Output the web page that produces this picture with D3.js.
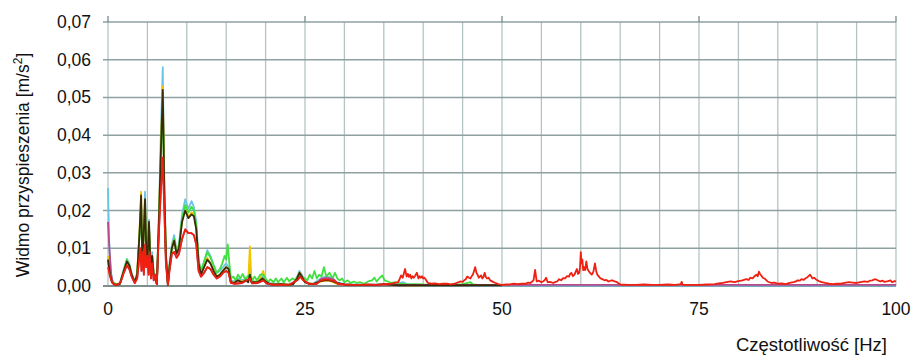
<!DOCTYPE html>
<html><head><meta charset="utf-8">
<script src="https://cdn.jsdelivr.net/npm/d3@7"></script>
<style>body{margin:0;background:#fff}svg{display:block}text{font-family:"Liberation Sans",Arial,sans-serif;fill:#111}</style>
</head><body><svg id="c" width="915" height="359"></svg>
<script>
// values in 10^-3 m/s^2 : [frequency Hz, amplitude]
const UNIT = 1e-3;
const xTicks = [0, 25, 50, 75, 100];
const yTicks = [0, 0.01, 0.02, 0.03, 0.04, 0.05, 0.06, 0.07];
const yTickLabels = ["0,00","0,01","0,02","0,03","0,04","0,05","0,06","0,07"];
const xGrid = [0,5,10,15,20,25,30,35,40,45,50,55,60,65,70,75,80,85,90,95,100];

const cyanSeries = [[0,26],[0.15,12],[0.35,4],[0.6,1],[0.9,0.4],[1.5,0.6],[2.0,4.5],[2.4,7.2],[2.7,6],[3.0,3.5],[3.4,1.2],[3.7,3.5],[4.0,14],[4.2,22],[4.35,9],[4.5,13],[4.7,25],[4.85,11],[5.0,7],[5.2,17.5],[5.4,6],[5.6,9],[5.8,3.5],[6.0,2.5],[6.2,0.6],[6.5,22],[6.7,40],[6.95,58],[7.15,28],[7.35,9],[7.6,0.5],[7.8,6],[8.1,11],[8.4,13.5],[8.7,9.5],[9.0,11],[9.4,19],[9.8,23],[10.2,20.5],[10.6,22.5],[10.9,21],[11.2,17],[11.5,7],[11.8,4],[12.2,6.5],[12.6,9.5],[13.0,8],[13.4,5.5],[13.8,3.5],[14.2,4],[14.6,5],[15.0,6],[15.3,5],[15.6,1.5],[16,1.2],[16.5,2],[17,1.5],[17.5,2],[17.8,1.5],[18.0,6],[18.2,1.5],[18.6,1.2],[19,1.2],[19.6,2.5],[20,1.5],[20.5,0.8],[21,0.6],[22,0.6],[23,0.5],[23.5,0.8],[24.0,2.5],[24.3,4],[24.6,3],[25,1.2],[25.5,0.8],[26,0.6],[27,2],[27.5,2.4],[28,2.4],[28.5,2],[29,1],[30,0.5],[32,0.4],[34,0.4],[36,0.4],[37,0.8],[37.5,1],[38,0.4],[40,0.2],[45,0.15],[50,0.1],[60,0.1],[70,0.1],[80,0.1],[90,0.1],[100,0.1]];

const yellowSeries = [[0,8],[0.3,3],[0.6,1],[1,0.4],[1.5,0.6],[2.0,4],[2.4,6.8],[2.7,5.5],[3.0,3],[3.4,1],[3.7,3.5],[4.0,15],[4.2,25],[4.35,9],[4.5,12],[4.7,22],[4.85,10],[5.0,6],[5.2,16],[5.4,5],[5.6,8],[5.8,3],[6.0,2],[6.2,0.5],[6.5,21],[6.7,37],[6.95,53],[7.15,26],[7.35,8],[7.6,0.4],[7.8,5],[8.1,10],[8.4,12.5],[8.7,9],[9.0,10],[9.4,17.5],[9.8,20.5],[10.2,18.5],[10.6,19.5],[10.9,19],[11.2,15.5],[11.5,6],[11.8,3],[12.2,5.5],[12.6,7.5],[13,6],[13.4,4.2],[13.8,2.5],[14.2,3],[14.6,4.2],[15,5],[15.3,4.5],[15.6,1],[16,1],[16.5,1.5],[17,1.2],[17.5,1.5],[17.8,1.5],[18.0,10.5],[18.2,2],[18.6,1],[19,1.2],[19.4,2.5],[19.7,4],[20,1.5],[20.5,0.6],[21,0.4],[22,0.5],[23,0.4],[23.5,0.6],[24,2],[24.3,3.5],[24.6,2.5],[25,1],[26,0.5],[27,1.2],[28,1.5],[29,0.6],[30,0.3],[33,0.3],[36,0.3],[38,0.2],[40,0.2]];

const greenSeries = [[0,7],[0.3,3],[0.6,1],[1,0.5],[1.5,0.6],[2,4],[2.4,7],[2.7,5.5],[3,3],[3.4,1],[3.7,3],[4,13],[4.2,22],[4.35,8],[4.5,12],[4.7,22],[4.85,10],[5,6],[5.2,16],[5.4,5],[5.6,8],[5.8,3],[6,2],[6.2,0.5],[6.5,19],[6.7,34],[6.95,50],[7.15,24],[7.35,8],[7.6,0.4],[7.8,5],[8.1,10],[8.4,12.5],[8.7,9],[9,10.5],[9.4,18],[9.8,21.5],[10.2,19.5],[10.6,21],[10.9,20],[11.2,16],[11.5,6.5],[11.8,4],[12.2,6.5],[12.6,9],[13,7.5],[13.4,5.5],[13.8,3.5],[14.2,4.5],[14.5,6],[14.8,8],[15.0,7],[15.2,11],[15.4,6],[15.6,2],[15.9,2.5],[16.2,1.5],[16.5,3],[16.8,2],[17.1,3.2],[17.4,1.8],[17.7,2.5],[18,3],[18.3,1.5],[18.6,2.5],[18.9,1.5],[19.3,3],[19.7,3],[20,2],[20.3,1],[20.6,1.8],[21,1],[21.3,2],[21.6,1],[22,2],[22.3,1],[22.7,2.2],[23,1.2],[23.4,2],[23.8,1.5],[24.2,3],[24.6,2.5],[25,2],[25.3,1.5],[25.6,3],[25.9,2],[26.2,4],[26.5,2],[26.8,3],[27.1,2.5],[27.4,5],[27.7,2.5],[28.1,3.5],[28.5,2],[28.8,3.5],[29.1,2],[29.4,1.5],[29.7,2],[30,1],[30.4,1.5],[30.8,0.8],[31.2,1.2],[31.6,0.8],[32,1],[32.5,0.6],[33,1.2],[33.5,1.5],[33.8,2.2],[34.1,1.2],[34.4,2],[34.8,2.8],[35.1,1.5],[35.5,1.2],[36,0.8],[36.5,1],[37,0.6],[38,0.4],[39,0.5],[40,0.4],[42,0.3],[44,0.4],[45,0.5],[46,1],[46.3,0.4],[47,0.3],[48,0.2]];

const magentaSeries = [[0,17],[0.2,9],[0.4,3],[0.6,0.8],[0.8,0.4],[1.2,0.3],[1.6,1],[2.0,3.5],[2.4,5.5],[2.7,4.5],[3.0,2.5],[3.4,0.8],[3.7,2],[3.9,6],[4.1,10],[4.25,4],[4.4,9],[4.55,3],[4.7,11],[4.85,5],[5.0,8],[5.15,3],[5.3,9],[5.45,2],[5.6,6],[5.8,1.5],[6.0,3],[6.2,0.5],[6.45,14],[6.7,25],[6.95,34],[7.15,20],[7.35,6],[7.6,0.3],[7.8,4],[8.1,8.5],[8.4,9],[8.7,7.5],[9.0,8.5],[9.4,12.5],[9.8,15],[10.2,14],[10.6,14],[10.9,13.5],[11.2,11],[11.5,4],[11.8,2.5],[12.2,3.5],[12.6,5],[13.0,4.5],[13.4,3],[13.8,2],[14.2,2.5],[14.6,3.5],[15.0,4],[15.3,3.5],[15.6,0.8],[16,0.6],[17,0.8],[18,2],[18.3,0.7],[19,0.8],[19.7,1.5],[20.2,0.6],[21,0.3],[22,0.3],[23,0.3],[24,1.5],[24.4,2.5],[24.8,1.5],[25.5,0.5],[26.5,0.6],[27,1.8],[27.5,2.1],[28,2.1],[28.7,1.7],[29.2,0.5],[30,0.3],[40,0.3],[50,0.3],[60,0.3],[70,0.3],[80,0.3],[90,0.3],[100,0.3]];

const brownSeries = [[0,7],[0.25,3],[0.5,1],[0.75,0.5],[1.0,0.3],[1.5,0.5],[2.0,4],[2.4,6.5],[2.7,5.5],[3.0,3],[3.4,1],[3.7,3],[4.0,14],[4.2,24],[4.35,8],[4.5,12],[4.7,23],[4.85,10],[5.0,6],[5.2,17],[5.4,5],[5.6,8],[5.8,3],[6.0,2],[6.2,0.5],[6.5,20],[6.7,35],[6.95,52],[7.15,25],[7.35,8],[7.6,0.3],[7.8,5],[8.1,10],[8.4,12],[8.7,8.5],[9.0,10],[9.4,17],[9.8,20],[10.2,18],[10.6,19],[10.9,18.5],[11.2,15],[11.5,6],[11.8,3],[12.2,5],[12.6,7],[13.0,6],[13.4,4],[13.8,2.5],[14.2,3],[14.6,4],[15.0,5],[15.3,4.5],[15.6,1],[16,0.8],[16.5,1.5],[17,1],[17.5,1.5],[17.8,1],[18.0,3],[18.2,1],[18.6,1],[19,1],[19.6,2],[20.0,1.2],[20.5,0.5],[21,0.4],[22,0.5],[23,0.3],[23.5,0.5],[24.0,2],[24.3,3.5],[24.6,2.5],[25.0,1],[25.5,0.6],[26,0.5],[27,1.3],[27.5,1.5],[28,1.5],[28.5,1.3],[29,0.8],[30,0.4],[31,0.3],[32,0.3],[33,0.3],[34,0.3],[35,0.5],[36,0.3],[37,0.2],[40,0.2],[45,0.2],[50,0.2]];

const redSeries = [[0,5],[0.2,3],[0.4,1.5],[0.6,0.8],[0.8,0.4],[1.2,0.3],[1.6,1],[2.0,3.5],[2.4,5.5],[2.7,4.5],[3.0,2.5],[3.4,0.8],[3.7,2],[3.9,6],[4.1,10],[4.25,4],[4.4,9],[4.55,3],[4.7,11],[4.85,5],[5.0,8],[5.15,3],[5.3,9],[5.45,2],[5.6,6],[5.8,1.5],[6.0,3],[6.2,0.5],[6.45,14],[6.7,25],[6.95,34],[7.15,20],[7.35,6],[7.6,0.3],[7.8,4],[8.1,8.5],[8.4,9],[8.7,7.5],[9.0,8.5],[9.4,12.5],[9.8,15],[10.2,14],[10.6,14],[10.9,13.5],[11.2,11],[11.5,4],[11.8,2.5],[12.2,3.5],[12.6,5],[13.0,4.5],[13.4,3],[13.8,2],[14.2,2.5],[14.6,3.5],[15.0,4],[15.3,3.5],[15.6,0.8],[16,0.6],[17,0.8],[18,2],[18.3,0.7],[19,0.8],[19.7,1.5],[20.2,0.6],[21,0.3],[22,0.3],[23,0.3],[24,1.5],[24.4,2.5],[24.8,1.5],[25.5,0.5],[26.5,0.6],[27,1.5],[27.5,1.7],[28,1.7],[28.7,1.3],[29.2,0.6],[30,0.4],[31,0.3],[32,0.3],[33,0.4],[34,0.3],[35,0.5],[36,0.6],[36.8,1],[37.0,1.8],[37.2,2.8],[37.4,2.2],[37.5,3],[37.7,4.5],[37.9,2.5],[38.05,3.2],[38.2,2.4],[38.35,3],[38.5,2],[38.65,2.6],[38.8,2.2],[39.0,2.8],[39.2,3.5],[39.4,2],[39.55,2.6],[39.7,2.2],[39.85,2.6],[40,2],[40.15,2.2],[40.3,1.8],[40.6,0.8],[41,0.6],[41.5,0.7],[42,0.5],[42.5,0.6],[43,0.6],[43.5,0.4],[44,0.6],[44.2,0.8],[44.5,1],[44.7,1.2],[45,1.1],[45.2,1.5],[45.4,1.8],[45.6,2.5],[45.8,2.2],[46,2],[46.15,2.6],[46.3,3],[46.45,4],[46.6,5],[46.75,3.5],[46.9,3],[47.05,2.2],[47.2,2.5],[47.35,2.8],[47.5,2],[47.65,2.4],[47.8,3.5],[47.95,2.4],[48.1,2],[48.3,2.2],[48.5,1.5],[48.7,1.3],[48.9,1],[49.2,0.8],[49.5,0.5],[50,0.3],[50.5,0.4],[51,0.4],[51.5,0.6],[52,0.5],[52.5,0.6],[53,0.6],[53.3,0.9],[53.6,0.8],[54.0,1.5],[54.2,4.3],[54.4,1.2],[54.7,1.4],[55,1],[55.2,1.2],[55.4,1.5],[55.6,2.2],[55.8,1],[56.1,1.1],[56.5,0.8],[56.8,1.1],[57,1.2],[57.25,1.8],[57.5,1.5],[57.75,2.1],[58,2],[58.25,2.6],[58.5,2.5],[58.65,3.2],[58.8,3.5],[59.0,2.6],[59.2,3],[59.35,3.8],[59.5,4.5],[59.65,3.2],[59.8,3.5],[59.9,5],[60.0,9],[60.1,6],[60.2,7],[60.3,4.2],[60.4,5],[60.55,4.2],[60.7,6.5],[60.85,4.5],[61,4],[61.2,3.4],[61.4,3],[61.6,3.8],[61.8,6],[61.95,4],[62.1,3],[62.3,2.5],[62.5,2],[62.75,1.8],[63,1.5],[63.25,1.6],[63.5,1.2],[63.75,1.4],[64,1.5],[64.3,1.2],[64.6,1],[65,0.4],[66,0.3],[67,0.3],[68,0.4],[69,0.3],[70,0.3],[71,0.4],[72,0.3],[72.7,0.5],[72.8,1.1],[72.9,0.4],[73,0.3],[74,0.3],[75,0.3],[76,0.4],[77,0.5],[77.5,0.7],[78,0.8],[78.5,1],[79,1.2],[79.5,1],[80,1.3],[80.5,1.5],[81,1.8],[81.3,1.6],[81.5,2.2],[81.8,2],[82,2.5],[82.3,3],[82.45,2.6],[82.6,3.8],[82.75,3.2],[82.9,2.8],[83.1,2.2],[83.3,2],[83.5,1.6],[83.7,1.2],[84.2,0.8],[84.6,0.9],[85,0.6],[85.5,0.7],[86,0.5],[86.5,0.8],[87,1],[87.3,1.2],[87.5,1.5],[87.8,1.4],[88,1.8],[88.3,1.6],[88.5,2],[88.8,2.4],[89.1,3],[89.25,2.5],[89.4,2],[89.6,2.2],[89.8,1.8],[90.3,1.2],[90.6,1],[91,0.8],[91.5,0.6],[92,0.5],[92.5,0.6],[93,0.6],[93.5,0.8],[94,1],[94.5,0.9],[95,0.8],[95.5,1],[96,1.2],[96.4,1.1],[96.7,1.4],[97,1.5],[97.3,1.8],[97.6,1.6],[98,1.2],[98.3,1.4],[98.5,1.1],[99,1.3],[99.3,1.5],[99.5,1],[99.8,1.3],[100,1.2]];

const series = [
  {data: cyanSeries, color: "#6cc4e4"},
  {data: yellowSeries, color: "#f3c400"},
  {data: greenSeries, color: "#3fe03f"},
  {data: magentaSeries, color: "#b8488c"},
  {data: brownSeries, color: "#3a2a0a"},
  {data: redSeries, color: "#ef2010"}
];

const svg = d3.select("#c");
const L = 108, R = 896, T = 22, B = 286;
const x = d3.scaleLinear().domain([0, 100]).range([L, R]);
const y = d3.scaleLinear().domain([0, 0.07]).range([B, T]);

// vertical grid
svg.append("g").selectAll("line").data(xGrid).join("line")
  .attr("x1", d => x(d)).attr("x2", d => x(d)).attr("y1", T).attr("y2", B)
  .attr("stroke", "#b4c4c4").attr("stroke-width", 1.3);
// horizontal grid
svg.append("g").selectAll("line").data(yTicks).join("line")
  .attr("x1", L - 5).attr("x2", R).attr("y1", d => y(d)).attr("y2", d => y(d))
  .attr("stroke", d => d === 0 ? "#7d8e8e" : "#8fa0a0").attr("stroke-width", d => d === 0 ? 2 : 1.5);
// top ticks
svg.append("g").selectAll("line").data(xTicks).join("line")
  .attr("x1", d => x(d)).attr("x2", d => x(d)).attr("y1", T - 6).attr("y2", T)
  .attr("stroke", "#6f7f7f").attr("stroke-width", 1.2);

// series
const line = d3.line().x(d => x(d[0])).y(d => y(d[1] * UNIT));
svg.append("g").selectAll("path").data(series).join("path")
  .attr("d", d => line(d.data)).attr("fill", "none")
  .attr("stroke", d => d.color).attr("stroke-width", 1.8).attr("stroke-linejoin", "round");

// y tick labels
svg.append("g").selectAll("text").data(yTicks).join("text")
  .attr("x", 91).attr("y", d => y(d) + 6).attr("text-anchor", "end")
  .attr("font-size", 17.5).text((d, i) => yTickLabels[i]);
// x tick labels
svg.append("g").selectAll("text").data(xTicks).join("text")
  .attr("x", d => x(d)).attr("y", 315).attr("text-anchor", "middle")
  .attr("font-size", 17.5).text(d => d);
// axis titles
svg.append("text").attr("x", 887).attr("y", 351).attr("text-anchor", "end")
  .attr("font-size", 18.5).text("Częstotliwość [Hz]");
const yl = svg.append("text").attr("transform", "translate(29,165) rotate(-90)")
  .attr("text-anchor", "middle").attr("font-size", 17.5);
yl.append("tspan").text("Widmo przyspieszenia [m/s");
yl.append("tspan").attr("font-size", 12).attr("dy", -7).text("2");
yl.append("tspan").attr("dy", 7).text("]");
</script></body></html>
